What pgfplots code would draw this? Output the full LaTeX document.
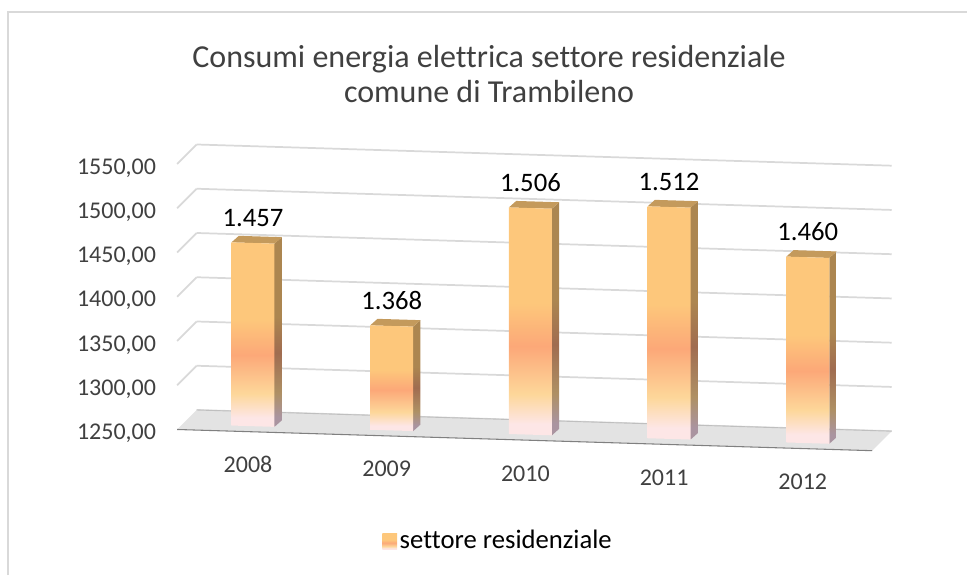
\documentclass[border=0pt]{standalone}
\usepackage{fontspec}
\setmainfont{Carlito}[Ligatures=NoCommon]
\usepackage{pgfplots}
\pgfplotsset{compat=1.18}

\definecolor{barorange}{HTML}{FDC77B}
\definecolor{barsalmon}{HTML}{FCA878}
\definecolor{barpale}{HTML}{FDD79A}
\definecolor{barpink}{HTML}{FDE6E6}
\definecolor{sideorange}{HTML}{AC8650}
\definecolor{sidesalmon}{HTML}{A06C50}
\definecolor{sidepale}{HTML}{AE9064}
\definecolor{sidepink}{HTML}{AA94A0}
\definecolor{bartop}{HTML}{C49A5C}
\definecolor{gridgrey}{HTML}{D9D9D9}
\definecolor{floorgrey}{HTML}{E3E3E3}
\definecolor{txt}{HTML}{404040}

% bar faces: the salmon band sits at the same share of every bar
% (pgf maps the path box to 25bp..75bp of the shading)
\pgfdeclareverticalshading{barfront}{100bp}{
  color(0bp)=(barpink); color(27.5bp)=(barpink); color(34bp)=(barpale);
  color(44.5bp)=(barsalmon); color(54bp)=(barorange); color(100bp)=(barorange)}
\pgfdeclareverticalshading{barside}{100bp}{
  color(0bp)=(sidepink); color(27.5bp)=(sidepink); color(34bp)=(sidepale);
  color(44.5bp)=(sidesalmon); color(54bp)=(sideorange); color(100bp)=(sideorange)}

\pgfplotsset{skewed/.style={
  disabledatascaling, clip=false, anchor=south west,
  x={(104.025pt,-3.1725pt)}, y={(0pt,0.66375pt)},
  ymin=1250, ymax=1550, scaled y ticks=false,
  axis line style={draw=none}, tick style={draw=none},
}}

\begin{document}
\begin{tikzpicture}
\path[use as bounding box] (0,0) rectangle (725.25pt,-431.25pt);
\draw[gridgrey,line width=1.4pt] (6pt,-431.25pt) -- (6pt,-9pt) -- (725.25pt,-9pt);
\node[align=center,font=\fontsize{24pt}{26.25pt}\selectfont,text=txt] at (366.75pt,-55.5pt)
  {Consumi energia elettrica settore residenziale\\comune di Trambileno};

% back wall and floor
\begin{axis}[skewed, at={(147.525pt,-323.4pt)},
  xmin=-0.406, xmax=4.605,
  xtick=\empty, ytick distance=50, ymajorgrids,
  grid style={gridgrey,line width=1.3pt},
  yticklabel style={anchor=east,xshift=-27pt,yshift=-17.5pt,font=\fontsize{18pt}{20pt}\selectfont,text=txt,
    /pgf/number format/.cd,assume math mode=true,fixed,fixed zerofill,precision=2,use comma,1000 sep={}},
]
\addplot[fill=floorgrey,draw=none] coordinates {(-0.406,1250) (4.605,1250) (4.4644,1227.3) (-0.5466,1227.3)} -- cycle;
\addplot[gray,line width=0.8pt] coordinates {(-0.5466,1227.3) (4.4644,1227.3)};
\addplot[black!25,line width=0.7pt] coordinates {(-0.406,1250) (4.605,1250)};
\addplot[gridgrey,line width=1.3pt] coordinates {(-0.406,1300) (-0.5466,1277.3)};
\addplot[gridgrey,line width=1.3pt] coordinates {(-0.406,1350) (-0.5466,1327.3)};
\addplot[gridgrey,line width=1.3pt] coordinates {(-0.406,1400) (-0.5466,1377.3)};
\addplot[gridgrey,line width=1.3pt] coordinates {(-0.406,1450) (-0.5466,1427.3)};
\addplot[gridgrey,line width=1.3pt] coordinates {(-0.406,1500) (-0.5466,1477.3)};
\addplot[gridgrey,line width=1.3pt] coordinates {(-0.406,1550) (-0.5466,1527.3)};
\end{axis}

% bars
\begin{axis}[skewed, at={(127.33pt,-334.25pt)},
  xmin=-0.6, xmax=4.6,
  xtick={0,1,2,3,4}, xticklabels={2008,2009,2010,2011,2012},
  xticklabel style={anchor=center,xshift=-3.75pt,yshift=-29pt,font=\fontsize{18pt}{20pt}\selectfont,text=txt},
  ytick=\empty,
  legend style={at={(0.4556,-0.33)},anchor=center,draw=none,fill=none,font=\fontsize{20pt}{24pt}\selectfont},
]
% side and top faces
\addplot[forget plot,draw=none,shading=barside] coordinates {(0.155,1250) (0.2076,1257.6) (0.2076,1464.6) (0.155,1457)} -- cycle;
\addplot[forget plot,draw=none,fill=bartop] coordinates {(-0.155,1457) (0.155,1457) (0.2076,1464.6) (-0.1024,1464.6)} -- cycle;
\addplot[forget plot,draw=none,shading=barside] coordinates {(1.155,1250) (1.2076,1257.6) (1.2076,1375.6) (1.155,1368)} -- cycle;
\addplot[forget plot,draw=none,fill=bartop] coordinates {(0.845,1368) (1.155,1368) (1.2076,1375.6) (0.8976,1375.6)} -- cycle;
\addplot[forget plot,draw=none,shading=barside] coordinates {(2.155,1250) (2.2076,1257.6) (2.2076,1513.6) (2.155,1506)} -- cycle;
\addplot[forget plot,draw=none,fill=bartop] coordinates {(1.845,1506) (2.155,1506) (2.2076,1513.6) (1.8976,1513.6)} -- cycle;
\addplot[forget plot,draw=none,shading=barside] coordinates {(3.155,1250) (3.2076,1257.6) (3.2076,1519.6) (3.155,1512)} -- cycle;
\addplot[forget plot,draw=none,fill=bartop] coordinates {(2.845,1512) (3.155,1512) (3.2076,1519.6) (2.8976,1519.6)} -- cycle;
\addplot[forget plot,draw=none,shading=barside] coordinates {(4.155,1250) (4.2076,1257.6) (4.2076,1467.6) (4.155,1460)} -- cycle;
\addplot[forget plot,draw=none,fill=bartop] coordinates {(3.845,1460) (4.155,1460) (4.2076,1467.6) (3.8976,1467.6)} -- cycle;
% front faces, as polygons since ybar keeps the base level on a skewed axis
\addplot[draw=none,shading=barfront,
  legend image code/.code={\shade[shading=barfront] (-2.25pt,-6.5pt) rectangle (8.75pt,5.5pt);},
] coordinates {(-0.155,1250) (0.155,1250) (0.155,1457) (-0.155,1457)} -- cycle;
\addlegendentry{settore residenziale}
\addplot[forget plot,draw=none,shading=barfront] coordinates {(0.845,1250) (1.155,1250) (1.155,1368) (0.845,1368)} -- cycle;
\addplot[forget plot,draw=none,shading=barfront] coordinates {(1.845,1250) (2.155,1250) (2.155,1506) (1.845,1506)} -- cycle;
\addplot[forget plot,draw=none,shading=barfront] coordinates {(2.845,1250) (3.155,1250) (3.155,1512) (2.845,1512)} -- cycle;
\addplot[forget plot,draw=none,shading=barfront] coordinates {(3.845,1250) (4.155,1250) (4.155,1460) (3.845,1460)} -- cycle;
% values
\addplot[forget plot,only marks,mark=none,
  nodes near coords,
  every node near coord/.append style={anchor=center,yshift=19pt,font=\fontsize{20pt}{24pt}\selectfont,text=black,
    /pgf/number format/.cd,assume math mode=true,fixed,precision=0,1000 sep={.}},
] coordinates {(0,1457) (1,1368) (2,1506) (3,1512) (4,1460)};
\end{axis}
\end{tikzpicture}
\end{document}
